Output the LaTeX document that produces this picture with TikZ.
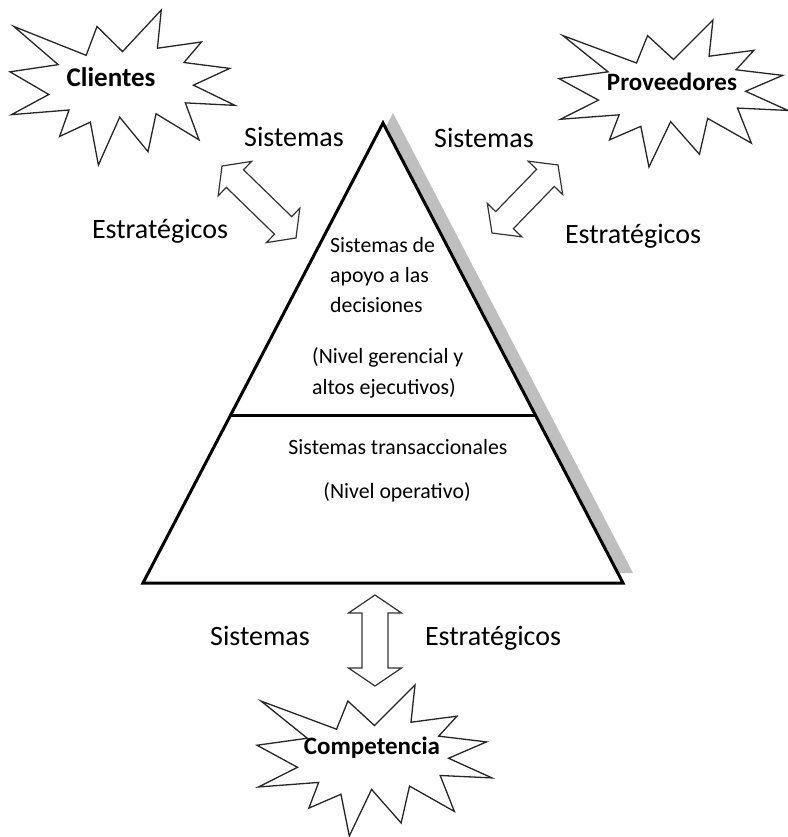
\documentclass[tikz,border=0pt]{standalone}
\usepackage{fontspec}
\setmainfont{Carlito}
\usetikzlibrary{calc}

% Twenty-four point explosion outline inside a unit box (y grows downward)
\newcommand\sealshape[4]{%
  \begin{scope}[shift={(#1,#2)}, xscale=#3, yscale=#4]
    \draw[seal] (0.5,0.2685) -- (0.6723,0) -- (0.6553,0.2465) -- (0.8509,0.2063)
      -- (0.7732,0.3387) -- (0.9767,0.3767) -- (0.8151,0.4850) -- (1,0.6153)
      -- (0.7795,0.5992) -- (0.8400,0.8377) -- (0.6491,0.6693) -- (0.6133,0.9138)
      -- (0.4876,0.6914) -- (0.3928,1) -- (0.3572,0.7235) -- (0.2205,0.8156)
      -- (0.2624,0.6452) -- (0.00625,0.6753) -- (0.1723,0.5451) -- (0,0.3988)
      -- (0.2142,0.3526) -- (0.0171,0.1063) -- (0.3385,0.2926) -- (0.3867,0.1063)
      -- cycle;
  \end{scope}}

% Hollow double-headed block arrow: centre x, centre y, angle, half length,
% head half width, shaft half width
\newcommand\dblarrow[6]{%
  \begin{scope}[shift={(#1,#2)}, rotate=#3]
    \draw[blockarrow] (-#4,0) -- ({-#4+18},#5) -- ({-#4+18},#6) -- ({#4-18},#6)
      -- ({#4-18},#5) -- (#4,0) -- ({#4-18},-#5) -- ({#4-18},-#6)
      -- ({-#4+18},-#6) -- ({-#4+18},-#5) -- cycle;
  \end{scope}}

\begin{document}
\begin{tikzpicture}[x=1pt,y=-1pt,
  seal/.style={draw=black!85, line width=1.3pt, fill=white, line join=miter},
  blockarrow/.style={draw=black!80, line width=1.2pt, fill=white, line join=miter},
  sidelabel/.style={font=\fontsize{28}{32}\selectfont, inner sep=0pt, anchor=base},
  seallabel/.style={font=\bfseries\fontsize{25}{30}\selectfont, inner sep=0pt},
  tiertext/.style={font=\fontsize{21.8}{30}\selectfont, inner sep=0pt, align=left},
  pyr/.style={draw=black, line width=3pt, line join=miter},
]
\useasboundingbox (0,0) rectangle (787,837);

% pyramid corners
\coordinate (apex) at (383,123);
\coordinate (bl) at (143,583);
\coordinate (br) at (623,583);

% drop shadow behind the pyramid
\fill[black!25] ($(apex)+(10,-10)$) -- ($(bl)+(10,-10)$) -- ($(br)+(10,-10)$) -- cycle;
\draw[pyr, fill=white] (apex) -- (bl) -- (br) -- cycle;

% divider between the two levels
\coordinate (divl) at ($(apex)!0.6348!(bl)$);
\coordinate (divr) at ($(apex)!0.6348!(br)$);
\draw[pyr] (divl) -- (divr);

% upper level
\node[tiertext, anchor=west] (apoyo) at (330,275) {Sistemas de\\apoyo a las\\decisiones};
\node[tiertext, anchor=west, font=\fontsize{21.8}{31}\selectfont] (gerencial) at (312,373)
  {(Nivel gerencial y\\altos ejecutivos)};

% lower level
\node[tiertext] (trans) at (398,447) {Sistemas transaccionales};
\node[tiertext] (operativo) at (397,492) {(Nivel operativo)};

% environment actors
\sealshape{10}{10}{225}{155}
\node[seallabel, font=\bfseries\fontsize{27}{30}\selectfont] (clientes) at (111,77) {Clientes};
\sealshape{559}{20}{229}{147}
\node[seallabel] (proveedores) at (672,82) {Proveedores};
\sealshape{257}{685}{235}{151}
\node[seallabel] (competencia) at (372,748) {Competencia};

% links between the actors and the pyramid
\dblarrow{259}{202}{-44.2}{51.6}{24}{12.3}
\dblarrow{525}{199}{45.9}{47.4}{24}{12.3}
\dblarrow{375}{640.5}{90}{45.5}{26.5}{13}

% labels along the links
\node[sidelabel] (sisl) at (294,147) {Sistemas};
\node[sidelabel] (estl) at (160,238) {Estratégicos};
\node[sidelabel] (sisr) at (484,148) {Sistemas};
\node[sidelabel] (estr) at (633,243) {Estratégicos};
\node[sidelabel] (sisb) at (260,645) {Sistemas};
\node[sidelabel] (estb) at (493,645) {Estratégicos};
\end{tikzpicture}
\end{document}
